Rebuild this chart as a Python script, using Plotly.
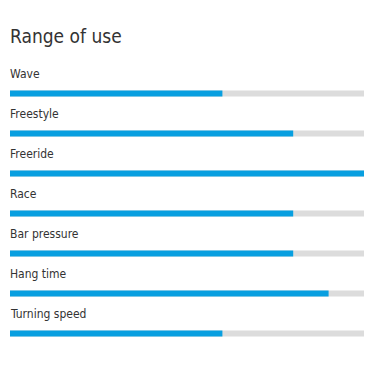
import plotly.graph_objects as go

categories = ["Wave", "Freestyle", "Freeride", "Race", "Bar pressure", "Hang time", "Turning speed"]
values = [6, 8, 10, 8, 8, 9, 6]
max_value = 10

idx = list(range(len(categories)))

# page body has an 8px default margin, so figure coordinates are offset by 8px
W = H = 373
first_center = 85.5
row_px = 40

fig = go.Figure()
fig.add_trace(go.Bar(
    x=[max_value] * len(categories), y=idx, orientation="h",
    marker=dict(color="#dcdcdc", line=dict(width=0)), width=6 / row_px,
    hoverinfo="skip", showlegend=False,
))
fig.add_trace(go.Bar(
    x=values, y=idx, orientation="h",
    marker=dict(color="#089fe0", line=dict(width=0)), width=6 / row_px,
    text=categories, hovertemplate="%{text}: %{x}<extra></extra>", textposition="none",
    showlegend=False,
))

annotations = []
for i, c in zip(idx, categories):
    annotations.append(dict(
        x=0, y=i - 0.5, xref="x", yref="y", text=c, showarrow=False,
        xanchor="left", yanchor="middle", xshift=-2,
        font=dict(family="DejaVu Sans Condensed, sans-serif", size=12, color="#333333"),
    ))

fig.update_layout(
    width=W, height=H,
    margin=dict(l=2, r=17, t=0, b=0),
    paper_bgcolor="white", plot_bgcolor="white",
    barmode="overlay",
    title=dict(text="Range of use", x=0, xref="paper", xanchor="left", y=1 - 28 / H, yanchor="middle",
               font=dict(family="DejaVu Sans Condensed, sans-serif", size=19, color="#333333")),
    xaxis=dict(range=[0, max_value], visible=False, fixedrange=True),
    yaxis=dict(range=[(H - first_center) / row_px, -first_center / row_px], visible=False, fixedrange=True),
    annotations=annotations,
)
fig.write_html("out.html")
